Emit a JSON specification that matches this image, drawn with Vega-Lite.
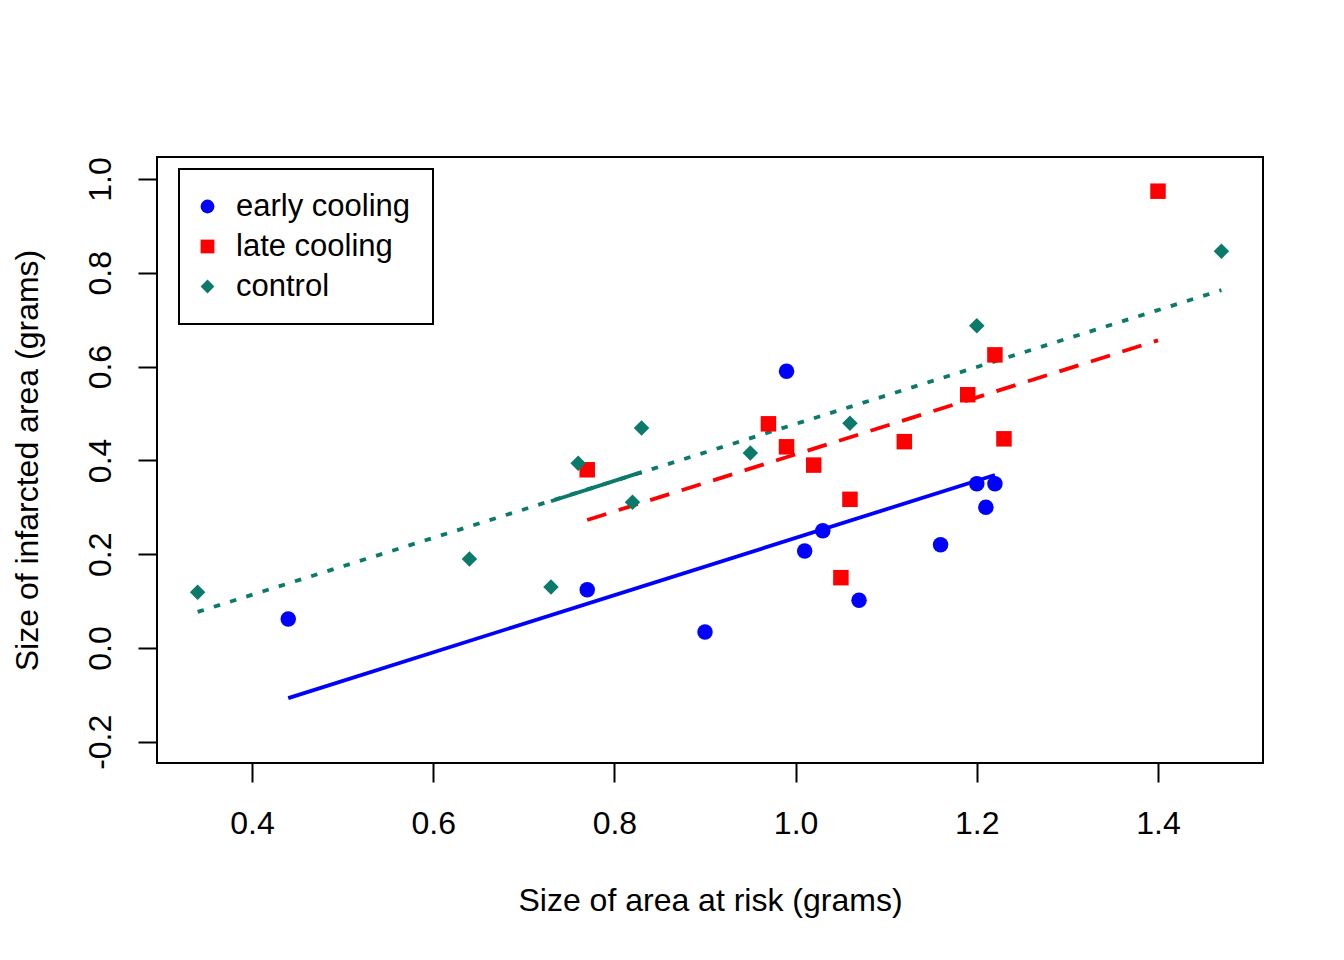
{
  "$schema": "https://vega.github.io/schema/vega-lite/v6.json",
  "autosize": {"type": "none"},
  "width": 1106,
  "height": 606,
  "padding": {"left": 157, "top": 157, "right": 81, "bottom": 197},
  "background": "white",
  "config": {
    "font": "Liberation Sans",
    "view": {"stroke": "black", "strokeWidth": 2},
    "axis": {
      "grid": false,
      "domain": false,
      "tickColor": "black",
      "tickWidth": 2,
      "tickSize": 19,
      "labelFont": "Liberation Sans",
      "labelFontSize": 32,
      "labelColor": "black",
      "titleFont": "Liberation Sans",
      "titleFontSize": 32,
      "titleFontWeight": "normal",
      "titleColor": "black"
    },
    "legend": {
      "strokeColor": "black",
      "strokeWidth": 2,
      "padding": 22,
      "labelFont": "Liberation Sans",
      "labelFontSize": 31,
      "labelColor": "black",
      "labelLimit": 0,
      "labelOffset": 13,
      "symbolOffset": -9,
      "rowPadding": 8,
      "symbolSize": 190,
      "symbolStrokeWidth": 0
    }
  },
  "datasets": {
    "points": [
      {"group": "early cooling", "risk": 0.44, "infarct": 0.062},
      {"group": "early cooling", "risk": 0.77, "infarct": 0.124},
      {"group": "early cooling", "risk": 0.90, "infarct": 0.034},
      {"group": "early cooling", "risk": 0.99, "infarct": 0.590},
      {"group": "early cooling", "risk": 1.01, "infarct": 0.207},
      {"group": "early cooling", "risk": 1.03, "infarct": 0.250},
      {"group": "early cooling", "risk": 1.07, "infarct": 0.102},
      {"group": "early cooling", "risk": 1.16, "infarct": 0.220},
      {"group": "early cooling", "risk": 1.20, "infarct": 0.350},
      {"group": "early cooling", "risk": 1.21, "infarct": 0.300},
      {"group": "early cooling", "risk": 1.22, "infarct": 0.350},
      {"group": "late cooling", "risk": 0.77, "infarct": 0.380},
      {"group": "late cooling", "risk": 0.97, "infarct": 0.478},
      {"group": "late cooling", "risk": 0.99, "infarct": 0.429},
      {"group": "late cooling", "risk": 1.02, "infarct": 0.390},
      {"group": "late cooling", "risk": 1.05, "infarct": 0.150},
      {"group": "late cooling", "risk": 1.06, "infarct": 0.317},
      {"group": "late cooling", "risk": 1.12, "infarct": 0.440},
      {"group": "late cooling", "risk": 1.19, "infarct": 0.540},
      {"group": "late cooling", "risk": 1.22, "infarct": 0.625},
      {"group": "late cooling", "risk": 1.23, "infarct": 0.446},
      {"group": "late cooling", "risk": 1.40, "infarct": 0.974},
      {"group": "control", "risk": 0.34, "infarct": 0.119},
      {"group": "control", "risk": 0.64, "infarct": 0.190},
      {"group": "control", "risk": 0.73, "infarct": 0.130},
      {"group": "control", "risk": 0.76, "infarct": 0.394},
      {"group": "control", "risk": 0.82, "infarct": 0.311},
      {"group": "control", "risk": 0.83, "infarct": 0.469},
      {"group": "control", "risk": 0.95, "infarct": 0.416},
      {"group": "control", "risk": 1.06, "infarct": 0.479},
      {"group": "control", "risk": 1.20, "infarct": 0.687},
      {"group": "control", "risk": 1.47, "infarct": 0.846}
    ],
    "fits": [
      {"group": "early cooling", "risk": 0.44, "infarct": -0.107},
      {"group": "early cooling", "risk": 1.22, "infarct": 0.369},
      {"group": "late cooling", "risk": 0.77, "infarct": 0.273},
      {"group": "late cooling", "risk": 1.40, "infarct": 0.656},
      {"group": "control", "risk": 0.34, "infarct": 0.077},
      {"group": "control", "risk": 1.47, "infarct": 0.763},
      {"group": "control segment", "risk": 0.73, "infarct": 0.313},
      {"group": "control segment", "risk": 0.83, "infarct": 0.375}
    ]
  },
  "layer": [
    {
      "data": {"name": "fits"},
      "transform": [{"filter": "datum.group == 'early cooling'"}],
      "mark": {"type": "line", "color": "#0000ff", "strokeWidth": 3.8},
      "encoding": {
        "x": {"field": "risk", "type": "quantitative"},
        "y": {"field": "infarct", "type": "quantitative"}
      }
    },
    {
      "data": {"name": "fits"},
      "transform": [{"filter": "datum.group == 'late cooling'"}],
      "mark": {"type": "line", "color": "#ff0000", "strokeWidth": 3.8, "strokeDash": [20, 13], "strokeCap": "butt"},
      "encoding": {
        "x": {"field": "risk", "type": "quantitative"},
        "y": {"field": "infarct", "type": "quantitative"}
      }
    },
    {
      "data": {"name": "fits"},
      "transform": [{"filter": "datum.group == 'control'"}],
      "mark": {"type": "line", "color": "#0b7a6a", "strokeWidth": 3.8, "strokeDash": [6.5, 10.5], "strokeCap": "butt"},
      "encoding": {
        "x": {"field": "risk", "type": "quantitative"},
        "y": {"field": "infarct", "type": "quantitative"}
      }
    },
    {
      "data": {"name": "fits"},
      "transform": [{"filter": "datum.group == 'control segment'"}],
      "mark": {"type": "line", "color": "#0b7a6a", "strokeWidth": 3.8},
      "encoding": {
        "x": {"field": "risk", "type": "quantitative"},
        "y": {"field": "infarct", "type": "quantitative"}
      }
    },
    {
      "data": {"name": "points"},
      "mark": {"type": "point", "filled": true, "opacity": 1, "strokeWidth": 0, "size": 240},
      "encoding": {
        "x": {
          "field": "risk",
          "type": "quantitative",
          "scale": {"domain": [0.29514, 1.51589], "nice": false, "zero": false},
          "axis": {
            "values": [0.4, 0.6, 0.8, 1.0, 1.2, 1.4],
            "format": ".1f",
            "labelPadding": 26,
            "labelFlush": false,
            "title": "Size of area at risk (grams)",
            "titleX": 553,
            "titleY": 137,
            "titleBaseline": "middle",
            "titleAlign": "center"
          }
        },
        "y": {
          "field": "infarct",
          "type": "quantitative",
          "scale": {"domain": [-0.2452, 1.0469], "nice": false, "zero": false},
          "axis": {
            "values": [-0.2, 0.0, 0.2, 0.4, 0.6, 0.8, 1.0],
            "labelExpr": "datum.value < 0 ? '-' + format(-datum.value, '.1f') : format(datum.value, '.1f')",
            "labelAngle": -90,
            "labelAlign": "center",
            "labelBaseline": "middle",
            "labelPadding": 38,
            "labelFlush": false,
            "title": "Size of infarcted area (grams)",
            "titleX": -130,
            "titleY": 303,
            "titleAngle": -90,
            "titleBaseline": "middle",
            "titleAlign": "center"
          }
        },
        "color": {
          "field": "group",
          "type": "nominal",
          "scale": {
            "domain": ["early cooling", "late cooling", "control"],
            "range": ["#0000ff", "#ff0000", "#0b7a6a"]
          },
          "legend": {"title": null, "orient": "none", "legendX": 22, "legendY": 12}
        },
        "shape": {
          "field": "group",
          "type": "nominal",
          "scale": {
            "domain": ["early cooling", "late cooling", "control"],
            "range": ["circle", "square", "diamond"]
          },
          "legend": {"title": null, "orient": "none", "legendX": 22, "legendY": 12}
        }
      }
    }
  ]
}
